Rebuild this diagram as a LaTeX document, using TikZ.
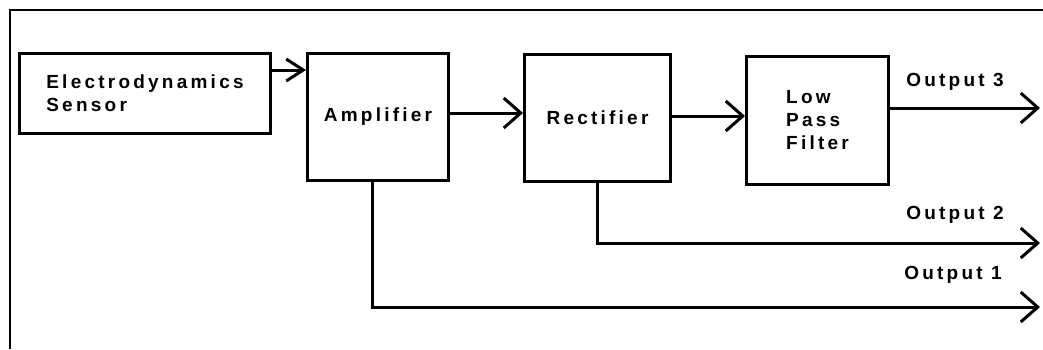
\documentclass[tikz,border=0pt]{standalone}
\usepackage{fontspec}
\newfontfamily\blockfont{Liberation Sans}[LetterSpace=17]
\usetikzlibrary{arrows.meta,positioning,calc}
\tikzset{
  >={Straight Barb[length=17pt,width=30pt,line width=3pt]},
  blk/.style={draw,line width=3pt,inner sep=0pt,font=\blockfont\bfseries\fontsize{19}{23}\selectfont},
  lab/.style={inner sep=0pt,font=\blockfont\bfseries\fontsize{19}{23}\selectfont},
  arr/.style={->,line width=3pt},
  wire/.style={line width=3pt},
}
\begin{document}
\begin{tikzpicture}[x=1pt,y=-1pt]
\useasboundingbox (0,0) rectangle (1043,349);
\draw[line width=2.5pt] (10,349) -- (10,10) -- (1043,10);
% blocks
\node[blk,minimum width=251,minimum height=80,align=left] (sensor) at (145,93.5) {Electrodynamics\\Sensor};
\node[blk,minimum width=141,minimum height=127] (amp) at (378,117) {Amplifier};
\node[blk,minimum width=146,minimum height=127] (rect) at (597.5,118) {Rectifier};
\node[blk,minimum width=142,minimum height=128,align=left] (lpf) at (817.5,120.5) {Low\\Pass\\Filter};
% chain
\coordinate (s1) at ([yshift=23.5pt]sensor.east);
\draw[arr,>={Straight Barb[length=17pt,width=22pt,line width=3pt]}] (s1) -- (s1 -| amp.west);
\draw[arr] ([yshift=4pt]amp.east) -- ([yshift=4pt]amp.east -| rect.west);
\draw[arr] ([yshift=2pt]rect.east) -- ([yshift=2pt]rect.east -| lpf.west);
% outputs
\coordinate (o3) at ([yshift=12.5pt]lpf.east);
\coordinate (e3) at (1040,108);
\coordinate (e2) at (1040,243);
\coordinate (e1) at (1040,307);
\draw[arr] (o3) -- (o3 -| e3);
\draw[wire] (rect.south) -- (rect.south |- e2);
\draw[arr] ([xshift=-1.5pt]rect.south |- e2) -- (e2);
\draw[wire] ([xshift=-6pt]amp.south) -- ([xshift=-6pt]amp.south |- e1);
\draw[arr] ([xshift=-7.5pt]amp.south |- e1) -- (e1);
\node[lab] (out3) at (955,82) {Output 3};
\node[lab] (out2) at (955,215) {Output 2};
\node[lab] (out1) at (953,275) {Output 1};
\end{tikzpicture}
\end{document}
